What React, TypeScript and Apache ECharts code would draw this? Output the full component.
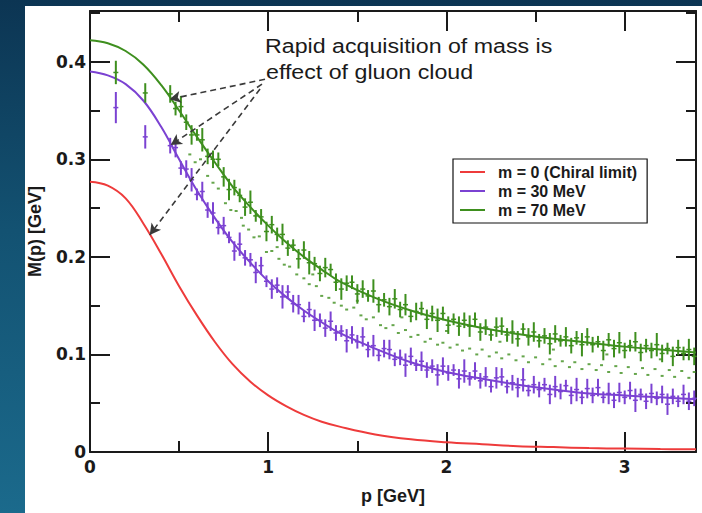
import React, { useEffect, useRef } from "react";
import * as echarts from "echarts";

const curveP = [0, 0.1, 0.2, 0.3, 0.4, 0.5, 0.6, 0.7, 0.8, 0.9, 1.0, 1.1, 1.2, 1.3, 1.4, 1.6, 1.8, 2.0, 2.2, 2.4, 2.6, 2.8, 3.0, 3.2, 3.4];
const chiralCurve = [0.277, 0.273, 0.26, 0.234, 0.203, 0.17, 0.14, 0.113, 0.09, 0.072, 0.058, 0.047, 0.038, 0.031, 0.026, 0.018, 0.013, 0.01, 0.008, 0.006, 0.005, 0.004, 0.0035, 0.003, 0.0028];
const m30Curve = [0.39, 0.386, 0.377, 0.36, 0.333, 0.3, 0.268, 0.24, 0.215, 0.194, 0.175, 0.159, 0.145, 0.133, 0.122, 0.106, 0.092, 0.082, 0.075, 0.069, 0.064, 0.06, 0.058, 0.056, 0.054];
const m70Curve = [0.422, 0.419, 0.411, 0.397, 0.376, 0.35, 0.323, 0.297, 0.272, 0.251, 0.232, 0.215, 0.2, 0.187, 0.175, 0.158, 0.145, 0.135, 0.127, 0.121, 0.116, 0.112, 0.108, 0.105, 0.102];

const latticeP = [0.145, 0.31,
  0.45, 0.48, 0.51, 0.54, 0.57, 0.60, 0.63, 0.66, 0.69, 0.72,
  0.75, 0.78, 0.81, 0.84, 0.87, 0.90, 0.93, 0.96, 0.99, 1.02,
  1.05, 1.08, 1.11, 1.14, 1.17, 1.20, 1.23, 1.26, 1.29, 1.32,
  1.35, 1.38, 1.41, 1.44, 1.47, 1.50, 1.53, 1.56, 1.59, 1.62,
  1.65, 1.68, 1.71, 1.74, 1.77, 1.80, 1.83, 1.86, 1.89, 1.92,
  1.95, 1.98, 2.01, 2.04, 2.07, 2.10, 2.13, 2.16, 2.19, 2.22,
  2.25, 2.28, 2.31, 2.34, 2.37, 2.40, 2.43, 2.46, 2.49, 2.52,
  2.55, 2.58, 2.61, 2.64, 2.67, 2.70, 2.73, 2.76, 2.79, 2.82,
  2.85, 2.88, 2.91, 2.94, 2.97, 3.00, 3.03, 3.06, 3.09, 3.12,
  3.15, 3.18, 3.21, 3.24, 3.27, 3.30, 3.33, 3.36, 3.39];

const m70Data = [0.389, 0.368,
  0.367, 0.352, 0.354, 0.338, 0.325, 0.325, 0.320, 0.303, 0.300, 0.300,
  0.282, 0.269, 0.271, 0.263, 0.251, 0.256, 0.242, 0.241, 0.226, 0.233,
  0.223, 0.223, 0.209, 0.212, 0.198, 0.207, 0.194, 0.193, 0.183, 0.189,
  0.187, 0.174, 0.167, 0.173, 0.174, 0.162, 0.167, 0.160, 0.165, 0.151,
  0.156, 0.149, 0.157, 0.146, 0.151, 0.139, 0.144, 0.147, 0.136, 0.142,
  0.135, 0.142, 0.130, 0.136, 0.129, 0.135, 0.129, 0.136, 0.123, 0.128,
  0.120, 0.128, 0.129, 0.120, 0.123, 0.116, 0.126, 0.118, 0.123, 0.114,
  0.119, 0.111, 0.121, 0.114, 0.118, 0.109, 0.117, 0.110, 0.118, 0.110,
  0.113, 0.104, 0.115, 0.106, 0.112, 0.104, 0.109, 0.113, 0.102, 0.109,
  0.104, 0.110, 0.101, 0.106, 0.098, 0.107, 0.101, 0.105, 0.098];

const m70Err = [0.012, 0.010,
  0.009, 0.007, 0.011, 0.008, 0.010, 0.006, 0.012, 0.008, 0.009, 0.007,
  0.010, 0.011, 0.008, 0.007, 0.009, 0.012, 0.006, 0.008, 0.010, 0.009,
  0.007, 0.011, 0.008, 0.006, 0.010, 0.009, 0.012, 0.007, 0.008, 0.010,
  0.006, 0.009, 0.011, 0.008, 0.007, 0.010, 0.009, 0.006, 0.012, 0.008,
  0.007, 0.009, 0.010, 0.008, 0.011, 0.006, 0.009, 0.007, 0.010, 0.008,
  0.012, 0.007, 0.009, 0.006, 0.010, 0.008, 0.011, 0.007, 0.009, 0.008,
  0.006, 0.010, 0.009, 0.007, 0.012, 0.008, 0.006, 0.009, 0.010, 0.007,
  0.008, 0.011, 0.009, 0.006, 0.010, 0.008, 0.007, 0.012, 0.009, 0.008,
  0.006, 0.010, 0.007, 0.009, 0.011, 0.008, 0.006, 0.010, 0.009, 0.007,
  0.008, 0.012, 0.009, 0.006, 0.010, 0.008, 0.007, 0.011, 0.009];

const m30Data = [0.353, 0.323,
  0.314, 0.312, 0.291, 0.290, 0.279, 0.264, 0.267, 0.248, 0.245, 0.230,
  0.232, 0.220, 0.206, 0.213, 0.199, 0.197, 0.184, 0.191, 0.175, 0.167,
  0.171, 0.159, 0.164, 0.152, 0.151, 0.139, 0.146, 0.135, 0.135, 0.127,
  0.134, 0.122, 0.124, 0.114, 0.120, 0.113, 0.118, 0.105, 0.109, 0.099,
  0.106, 0.105, 0.095, 0.097, 0.089, 0.098, 0.089, 0.093, 0.084, 0.088,
  0.079, 0.088, 0.081, 0.084, 0.075, 0.083, 0.075, 0.083, 0.073, 0.077,
  0.067, 0.076, 0.077, 0.067, 0.071, 0.066, 0.074, 0.063, 0.069, 0.064,
  0.069, 0.059, 0.067, 0.062, 0.068, 0.058, 0.064, 0.056, 0.065, 0.058,
  0.066, 0.056, 0.060, 0.053, 0.061, 0.056, 0.063, 0.053, 0.059, 0.052,
  0.060, 0.055, 0.059, 0.049, 0.057, 0.052, 0.059, 0.052, 0.055];

const m30Err = [0.016, 0.012,
  0.008, 0.010, 0.007, 0.009, 0.012, 0.006, 0.010, 0.008, 0.011, 0.007,
  0.009, 0.006, 0.010, 0.012, 0.008, 0.007, 0.011, 0.009, 0.006, 0.010,
  0.008, 0.012, 0.007, 0.009, 0.010, 0.006, 0.008, 0.011, 0.007, 0.009,
  0.010, 0.008, 0.006, 0.012, 0.009, 0.007, 0.010, 0.008, 0.011, 0.006,
  0.009, 0.010, 0.007, 0.008, 0.012, 0.009, 0.006, 0.010, 0.008, 0.007,
  0.011, 0.009, 0.008, 0.006, 0.010, 0.012, 0.007, 0.009, 0.008, 0.010,
  0.006, 0.011, 0.009, 0.007, 0.008, 0.010, 0.012, 0.006, 0.009, 0.008,
  0.007, 0.010, 0.011, 0.008, 0.006, 0.009, 0.012, 0.007, 0.010, 0.008,
  0.009, 0.006, 0.011, 0.008, 0.010, 0.007, 0.009, 0.012, 0.006, 0.008,
  0.010, 0.007, 0.009, 0.011, 0.008, 0.006, 0.010, 0.009, 0.008];

const dotP = [0.56, 0.59, 0.62, 0.66, 0.69, 0.72, 0.76, 0.79, 0.82, 0.86, 0.89, 0.92, 0.95, 0.99, 1.02, 1.06, 1.09, 1.12, 1.16, 1.20,
  1.23, 1.27, 1.30, 1.34, 1.37, 1.41, 1.44, 1.48, 1.52, 1.55, 1.59, 1.63, 1.66, 1.70, 1.73, 1.77, 1.80, 1.84, 1.88, 1.91,
  1.95, 1.98, 2.02, 2.06, 2.09, 2.13, 2.17, 2.20, 2.24, 2.28, 2.31, 2.35, 2.39, 2.43, 2.46, 2.50, 2.54, 2.58, 2.61, 2.65,
  2.69, 2.72, 2.76, 2.80, 2.84, 2.87, 2.91, 2.95, 2.98, 3.02, 3.06, 3.10, 3.13, 3.17, 3.21, 3.25, 3.28, 3.32, 3.36, 3.39,
  1.50, 1.75, 2.00, 2.30, 2.60, 2.90, 3.20, 1.25, 1.05, 0.85];
const dotM = [0.305, 0.297, 0.300, 0.283, 0.276, 0.270, 0.255, 0.248, 0.247, 0.232, 0.228, 0.220, 0.221, 0.205, 0.206, 0.198, 0.192, 0.190, 0.182, 0.178,
  0.172, 0.170, 0.160, 0.158, 0.153, 0.150, 0.146, 0.148, 0.140, 0.136, 0.138, 0.130, 0.127, 0.130, 0.122, 0.125, 0.118, 0.120, 0.113, 0.116,
  0.110, 0.112, 0.107, 0.110, 0.104, 0.106, 0.100, 0.105, 0.098, 0.102, 0.096, 0.100, 0.094, 0.098, 0.092, 0.097, 0.090, 0.095, 0.088, 0.093,
  0.087, 0.092, 0.085, 0.090, 0.084, 0.089, 0.082, 0.088, 0.081, 0.087, 0.080, 0.086, 0.079, 0.085, 0.078, 0.084, 0.077, 0.083, 0.076, 0.082,
  0.155, 0.138, 0.124, 0.113, 0.105, 0.100, 0.095, 0.182, 0.210, 0.240];

const seriesNames = ["m = 0 (Chiral limit)", "m = 30 MeV", "m = 70 MeV"];
const RED = "#ee3b3b";
const PURPLE = "#7b42d2";
const GREEN = "#3e8f1e";

const arrowStarts = [[0.982, 0.382], [0.965, 0.377], [0.954, 0.372]];
const arrowEnds = [[0.447, 0.3616], [0.453, 0.3146], [0.335, 0.2225]];

function zip(xs: number[], ys: number[]) {
  return xs.map((x, i) => [x, ys[i]]);
}
function zip3(xs: number[], ys: number[], es: number[]) {
  return xs.map((x, i) => [x, ys[i], es[i]]);
}

function errorBars(color: string, data: number[][]) {
  return {
    type: "custom",
    silent: true,
    z: 4,
    data,
    encode: { x: 0, y: 1 },
    renderItem: (_params: any, api: any) => {
      const x = api.value(0);
      const y = api.value(1);
      const e = api.value(2);
      const hi = api.coord([x, y + e]);
      const lo = api.coord([x, y - e]);
      const c = api.coord([x, y]);
      return {
        type: "group",
        children: [
          { type: "line", shape: { x1: hi[0], y1: hi[1], x2: lo[0], y2: lo[1] }, style: { stroke: color, lineWidth: 2 } },
          { type: "line", shape: { x1: c[0] - 2.5, y1: c[1], x2: c[0] + 2.5, y2: c[1] }, style: { stroke: color, lineWidth: 1.5 } },
        ],
      };
    },
  };
}

const tickFont = { fontFamily: "DejaVu Sans", fontWeight: "bold" as const, fontSize: 17, color: "#1a1a1a" };

export default function App() {
  const ref = useRef<HTMLDivElement>(null);
  useEffect(() => {
    if (!ref.current) return;
    const chart = echarts.init(ref.current, undefined, { renderer: "svg" });
    const axisLine = { show: true, onZero: false, lineStyle: { color: "#1a1a1a", width: 2 } };
    const baseX = {
      type: "value",
      min: 0,
      max: 3.4,
      interval: 1,
      axisLine,
      axisTick: { show: true, inside: true, length: 20, lineStyle: { color: "#1a1a1a", width: 2 } },
      minorTick: { show: true, splitNumber: 2, length: 11, lineStyle: { color: "#1a1a1a", width: 2 } },
      splitLine: { show: false },
    };
    const baseY = {
      type: "value",
      min: 0,
      max: 0.452,
      interval: 0.1,
      axisLine,
      axisTick: { show: true, inside: true, length: 20, lineStyle: { color: "#1a1a1a", width: 2 } },
      minorTick: { show: true, splitNumber: 2, length: 10, lineStyle: { color: "#1a1a1a", width: 2 } },
      splitLine: { show: false },
    };
    chart.setOption({
      animation: false,
      backgroundColor: "transparent",
      grid: { left: 90, top: 11, width: 606, height: 441 },
      xAxis: [
        {
          ...baseX,
          position: "bottom",
          axisLabel: { ...tickFont, margin: 6, showMaxLabel: false },
          name: "p [GeV]",
          nameLocation: "middle",
          nameGap: 35,
          nameTextStyle: { fontFamily: "Liberation Sans", fontWeight: "bold", fontSize: 18, color: "#1a1a1a" },
        },
        { ...baseX, position: "top", axisLabel: { show: false } },
      ],
      yAxis: [
        {
          ...baseY,
          position: "left",
          axisLabel: { ...tickFont, margin: 4, showMaxLabel: false },
          name: "M(p) [GeV]",
          nameLocation: "middle",
          nameGap: 46,
          nameTextStyle: { fontFamily: "Liberation Sans", fontWeight: "bold", fontSize: 18, color: "#1a1a1a" },
        },
        { ...baseY, position: "right", axisLabel: { show: false } },
      ],
      legend: {
        data: seriesNames,
        orient: "vertical",
        left: 453,
        top: 159,
        icon: "rect",
        itemWidth: 25,
        itemHeight: 2,
        itemGap: 3,
        padding: [5, 10, 5, 7],
        borderColor: "#111",
        borderWidth: 1.2,
        borderRadius: 0,
        backgroundColor: "#fff",
        textStyle: { fontFamily: "Liberation Sans", fontWeight: "bold", fontSize: 16, color: "#1a1a1a", padding: [0, 0, 0, 8] },
      },
      graphic: [
        {
          type: "text",
          left: 265,
          top: 36,
          scaleX: 1.16,
          style: { text: "Rapid acquisition of mass is", fontFamily: "Liberation Sans", fontSize: 20, fill: "#1a1a1a" },
        },
        {
          type: "text",
          left: 266,
          top: 62,
          scaleX: 1.16,
          style: { text: "effect of gluon cloud", fontFamily: "Liberation Sans", fontSize: 20, fill: "#1a1a1a" },
        },
      ],
      series: [
        {
          name: seriesNames[0],
          type: "line",
          data: zip(curveP, chiralCurve),
          smooth: 0.4,
          showSymbol: false,
          lineStyle: { color: RED, width: 2 },
          itemStyle: { color: RED },
          z: 2,
          markLine: {
            silent: true,
            symbol: ["none", "arrow"],
            symbolSize: [9, 11],
            label: { show: false },
            lineStyle: { color: "#3a3a3a", width: 1.6, type: [6, 4] },
            itemStyle: { color: "#3a3a3a" },
            data: arrowStarts.map((s, i) => [{ coord: s }, { coord: arrowEnds[i] }]),
          },
        },
        {
          name: seriesNames[1],
          type: "line",
          data: zip(curveP, m30Curve),
          smooth: 0.4,
          showSymbol: false,
          lineStyle: { color: PURPLE, width: 2 },
          itemStyle: { color: PURPLE },
          z: 2,
        },
        {
          name: seriesNames[2],
          type: "line",
          data: zip(curveP, m70Curve),
          smooth: 0.4,
          showSymbol: false,
          lineStyle: { color: GREEN, width: 2 },
          itemStyle: { color: GREEN },
          z: 2,
        },
        {
          type: "scatter",
          data: zip(dotP, dotM),
          symbol: "rect",
          symbolSize: [3, 2],
          itemStyle: { color: GREEN },
          silent: true,
          z: 3,
        },
        errorBars(PURPLE, zip3(latticeP, m30Data, m30Err)),
        errorBars(GREEN, zip3(latticeP, m70Data, m70Err)),
      ],
    });
    return () => chart.dispose();
  }, []);

  return (
    <div
      style={{
        position: "fixed",
        left: 0,
        top: 0,
        width: 702,
        height: 513,
        background: "linear-gradient(to bottom, #0c3553 0%, #135272 45%, #1b6a8c 100%)",
      }}
    >
      <div style={{ position: "absolute", left: 25, top: 6, width: 677, height: 507, background: "#fff" }} />
      <div ref={ref} style={{ position: "absolute", left: 0, top: 0, width: 702, height: 513 }} />
    </div>
  );
}
